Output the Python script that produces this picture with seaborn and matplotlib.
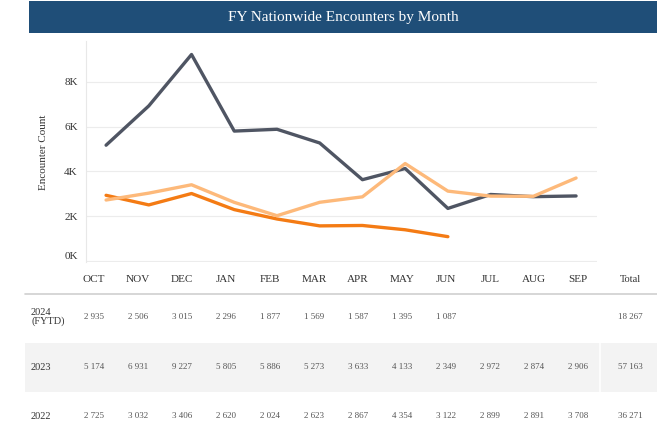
import matplotlib.pyplot as plt
import pandas as pd
import seaborn as sns
from matplotlib.lines import Line2D
from matplotlib.patches import Rectangle
from matplotlib.transforms import ScaledTranslation

months = ['OCT', 'NOV', 'DEC', 'JAN', 'FEB', 'MAR', 'APR', 'MAY', 'JUN', 'JUL', 'AUG', 'SEP']
fy2024 = [2935, 2506, 3015, 2296, 1877, 1569, 1587, 1395, 1087]
fy2023 = [5174, 6931, 9227, 5805, 5886, 5273, 3633, 4133, 2349, 2972, 2874, 2906]
fy2022 = [2725, 3032, 3406, 2620, 2024, 2623, 2867, 4354, 3122, 2899, 2891, 3708]
row_labels = ['2024\n(FYTD)', '2023', '2022']
colors = {'2023': '#4f5563', '2024': '#f47b14', '2022': '#fdb97a'}

sns.set_style('white')
plt.rcParams['font.family'] = ['Liberation Serif', 'DejaVu Serif']

W, H = 657, 440
fig = plt.figure(figsize=(W / 100, H / 100), dpi=100)


def fx(x):
    return x / W


def fy(y):
    return 1 - y / H


# long data frame for seaborn
rows = []
for year, vals in [('2023', fy2023), ('2024', fy2024), ('2022', fy2022)]:
    for m, v in zip(months, vals):
        rows.append({'month': m, 'count': v, 'year': year})
df = pd.DataFrame(rows)

# title bar
fig.add_artist(Rectangle((fx(29), fy(33)), fx(W - 29), 32 / H, color='#1f4e78', lw=0))
fig.text(fx(343), fy(17), 'FY Nationwide Encounters by Month', color='white',
         fontsize=11, ha='center', va='center')

# line chart
ax = fig.add_axes([fx(86), fy(262), fx(597 - 86), (262 - 41) / H])
sns.lineplot(data=df, x='month', y='count', hue='year', hue_order=['2023', '2024', '2022'],
             palette=colors, linewidth=2.4, legend=False, sort=False, ax=ax)
ax.set_xlim(-0.47, 11.49)
ax.set_ylim(-45, 9830)
ax.set_yticks([0, 2000, 4000, 6000, 8000])
ax.set_yticklabels(['0K', '2K', '4K', '6K', '8K'], fontsize=8, color='#333333')
ax.tick_params(axis='y', length=0, pad=6)
# the 0K label sits a little above its gridline
lab0 = ax.get_yticklabels()[0]
lab0.set_transform(lab0.get_transform() + ScaledTranslation(0, 0.05, fig.dpi_scale_trans))
ax.set_xticks([])
ax.set_xlabel('')
ax.set_ylabel('')
ax.grid(axis='y', color='#ececec', lw=0.8)
ax.set_axisbelow(True)
for s in ['top', 'right', 'bottom']:
    ax.spines[s].set_visible(False)
ax.spines['left'].set_color('#e8e8e8')
ax.spines['left'].set_linewidth(0.8)

fig.text(fx(43), fy(152), 'Encounter Count', rotation=90, fontsize=8,
         ha='center', va='center', color='#333333')

# table below
col_x = [94 + 44 * i for i in range(12)]
total_x = 630
for x, m in zip(col_x, months):
    fig.text(fx(x), fy(280), m, fontsize=8, ha='center', va='center', color='#333333')
fig.text(fx(total_x), fy(279), 'Total', fontsize=7.5, ha='center', va='center', color='#333333')

fig.add_artist(Line2D([fx(25), 1], [fy(294), fy(294)], color='#d0d0d0', lw=1.2))
fig.add_artist(Rectangle((fx(25), fy(392)), fx(W - 25), 49 / H, color='#f3f3f3', lw=0))
fig.add_artist(Line2D([fx(600), fx(600)], [fy(343), fy(392)], color='white', lw=1.2))

row_y = [317, 367, 416]
for label, vals, y in zip(row_labels, [fy2024, fy2023, fy2022], row_y):
    fig.text(fx(31), fy(y), label, fontsize=7.5, ha='left', va='center', color='#333333',
             linespacing=0.9)
    for x, v in zip(col_x, vals):
        fig.text(fx(x), fy(y), f'{v:,}'.replace(',', ' '), fontsize=6.5,
                 ha='center', va='center', color='#555555')
    fig.text(fx(total_x), fy(y), f'{sum(vals):,}'.replace(',', ' '), fontsize=6.5,
             ha='center', va='center', color='#555555')

fig.savefig('out.png', dpi=100)
